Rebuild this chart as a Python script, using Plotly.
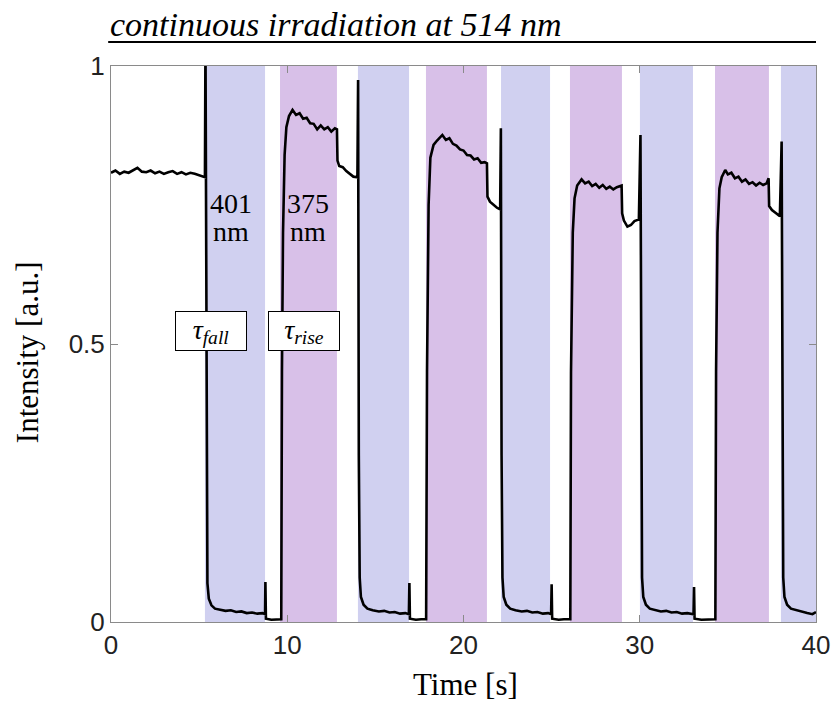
import plotly.graph_objects as go

# irradiation windows [s]
blue_start = [5.33, 14.01, 22.13, 30.01, 38.01]   # 401 nm on
blue_end = [8.74, 16.91, 24.91, 33.02, 40.0]
purple_start = [9.59, 17.87, 26.04, 34.27]        # 375 nm on
purple_end = [12.82, 21.33, 28.99, 37.33]

# intensity trace
time_s = [
    0.0, 0.25, 0.5, 0.75, 1.0, 1.25, 1.5, 1.75, 2.0, 2.25, 2.5, 2.75, 3.0, 3.25,
    3.5, 3.75, 4.0, 4.25, 4.5, 4.75, 5.0, 5.2, 5.33,
    5.36, 5.42, 5.47, 5.55, 5.7, 5.9, 6.2, 6.5, 6.8, 7.1, 7.4, 7.7, 8.0, 8.3,
    8.6, 8.74, 8.76, 8.79, 9.1, 9.4, 9.66,
    9.70, 9.76, 9.85, 9.95, 10.1, 10.3, 10.5, 10.7, 10.9, 11.1, 11.3, 11.5, 11.7,
    11.9, 12.1, 12.3, 12.5, 12.7, 12.82, 12.85, 12.95, 13.15, 13.35, 13.55, 13.75,
    13.98,
    14.02, 14.06, 14.11, 14.18, 14.33, 14.55, 14.85, 15.2, 15.5, 15.8, 16.1, 16.4,
    16.7, 16.9, 16.93, 16.96, 17.3, 17.6, 17.88,
    17.93, 18.02, 18.12, 18.3, 18.5, 18.8, 19.0, 19.2, 19.4, 19.6, 19.8, 20.0,
    20.2, 20.4, 20.6, 20.8, 21.0, 21.2, 21.33, 21.36, 21.5, 21.7, 21.9, 22.08,
    22.12, 22.16, 22.21, 22.28, 22.43, 22.65, 22.95, 23.3, 23.6, 23.9, 24.2, 24.5,
    24.8, 24.97, 25.0, 25.03, 25.4, 25.7, 26.06,
    26.10, 26.2, 26.3, 26.45, 26.7, 26.9, 27.1, 27.3, 27.5, 27.7, 27.9, 28.1,
    28.3, 28.5, 28.7, 28.97, 29.0, 29.1, 29.3, 29.5, 29.7, 29.95,
    30.04, 30.08, 30.13, 30.2, 30.35, 30.57, 30.87, 31.2, 31.5, 31.8, 32.1, 32.4,
    32.7, 33.05, 33.08, 33.11, 33.5, 33.9, 34.29,
    34.33, 34.41, 34.52, 34.65, 34.85, 35.0, 35.2, 35.4, 35.6, 35.8, 36.0, 36.2,
    36.4, 36.6, 36.8, 37.0, 37.2, 37.31, 37.34, 37.5, 37.7, 37.95,
    38.05, 38.09, 38.14, 38.21, 38.36, 38.58, 38.88, 39.2, 39.5, 39.8, 40.0,
]
intensity = [
    0.808, 0.812, 0.806, 0.810, 0.808, 0.813, 0.817, 0.810, 0.809, 0.812, 0.807,
    0.810, 0.806, 0.809, 0.811, 0.806, 0.809, 0.805, 0.808, 0.806, 0.803, 0.801,
    0.800,
    1.05, 0.30, 0.07, 0.042, 0.030, 0.024, 0.022, 0.020, 0.021, 0.018, 0.019,
    0.016, 0.017, 0.015, 0.016, 0.014, 0.072, 0.006, 0.004, 0.005, 0.005,
    0.45, 0.70, 0.84, 0.89, 0.910, 0.921, 0.912, 0.915, 0.905, 0.907, 0.897,
    0.896, 0.886, 0.893, 0.886, 0.890, 0.882, 0.888, 0.886, 0.830, 0.820, 0.818,
    0.811, 0.806, 0.801, 0.800,
    0.975, 0.30, 0.08, 0.045, 0.031, 0.024, 0.021, 0.019, 0.020, 0.017, 0.018,
    0.015, 0.016, 0.014, 0.070, 0.006, 0.004, 0.005, 0.005,
    0.45, 0.75, 0.835, 0.858, 0.866, 0.876, 0.867, 0.870, 0.860, 0.857, 0.850,
    0.848, 0.840, 0.839, 0.832, 0.834, 0.826, 0.827, 0.825, 0.765, 0.756, 0.750,
    0.745, 0.742,
    0.888, 0.30, 0.08, 0.045, 0.031, 0.024, 0.021, 0.019, 0.020, 0.017, 0.018,
    0.015, 0.016, 0.014, 0.068, 0.006, 0.004, 0.005, 0.005,
    0.45, 0.70, 0.762, 0.785, 0.796, 0.789, 0.792, 0.784, 0.788, 0.781, 0.786,
    0.779, 0.783, 0.778, 0.782, 0.785, 0.735, 0.722, 0.711, 0.714, 0.721, 0.724,
    0.876, 0.30, 0.08, 0.045, 0.031, 0.024, 0.021, 0.019, 0.020, 0.017, 0.018,
    0.015, 0.016, 0.014, 0.063, 0.006, 0.004, 0.005, 0.005,
    0.45, 0.70, 0.78, 0.80, 0.813, 0.805, 0.808, 0.798, 0.801, 0.792, 0.796,
    0.788, 0.791, 0.785, 0.790, 0.786, 0.789, 0.798, 0.748, 0.741, 0.736, 0.730,
    0.864, 0.30, 0.08, 0.045, 0.031, 0.024, 0.021, 0.018, 0.016, 0.014, 0.018,
]

x_ticks = [0, 10, 20, 30, 40]
y_ticks = [0, 0.5, 1]
y_tick_text = ["0", "0.5", "1"]

BLUE = "#d0d0f0"
PURPLE = "#d8c0e8"
FRAME = "#8a8a8a"

fig = go.Figure()

for s, e in zip(blue_start, blue_end):
    fig.add_vrect(x0=s, x1=e, fillcolor=BLUE, opacity=1, line_width=0, layer="below")
for s, e in zip(purple_start, purple_end):
    fig.add_vrect(x0=s, x1=e, fillcolor=PURPLE, opacity=1, line_width=0, layer="below")

fig.add_trace(go.Scatter(x=time_s, y=intensity, mode="lines",
                         line=dict(color="black", width=2.6), hoverinfo="skip"))

tick_font = dict(family="Liberation Sans", size=26, color="#222222")
axis_common = dict(showgrid=False, zeroline=False, showline=True, linecolor=FRAME,
                   linewidth=1, mirror="ticks", ticks="inside", ticklen=7,
                   tickcolor=FRAME, tickfont=tick_font, ticklabeloverflow="allow")

fig.update_layout(
    width=832, height=702,
    margin=dict(l=111, r=16, t=66, b=80, autoexpand=False),
    plot_bgcolor="white", paper_bgcolor="white",
    showlegend=False,
    xaxis=dict(range=[0, 40], tickvals=x_ticks, **axis_common),
    yaxis=dict(range=[0, 1], tickvals=y_ticks, ticktext=y_tick_text, **axis_common),
)

serif = "Liberation Serif"
# title with rule underneath
fig.add_annotation(text="<i>continuous irradiation at 514 nm</i>", xref="paper", yref="paper",
                   x=-0.004, y=1.037, xanchor="left", yanchor="bottom", showarrow=False,
                   font=dict(family=serif, size=34, color="black"))
fig.add_shape(type="line", xref="paper", yref="paper", x0=-0.004, x1=1.0, y0=1.0432, y1=1.0432,
              line=dict(color="black", width=2))

# axis titles
fig.add_annotation(text="Intensity [a.u.]", xref="paper", yref="paper", x=-0.118, y=0.485,
                   textangle=-90, showarrow=False, xanchor="center", yanchor="middle",
                   font=dict(family=serif, size=31, color="black"))
fig.add_annotation(text="Time [s]", xref="paper", yref="paper", x=0.5035, y=-0.113,
                   showarrow=False, xanchor="center", yanchor="middle",
                   font=dict(family=serif, size=31, color="black"))

# wavelength labels
for label, xc in [("401", 6.81), ("375", 11.18)]:
    fig.add_annotation(text=label, x=xc, y=0.752, showarrow=False,
                       font=dict(family=serif, size=28, color="black"))
    fig.add_annotation(text="nm", x=xc, y=0.703, showarrow=False,
                       font=dict(family=serif, size=28, color="black"))

# time-constant boxes
for label, xc in [("τ<sub>fall</sub>", 5.67), ("τ<sub>rise</sub>", 10.95)]:
    fig.add_annotation(text="<i>" + label + "</i>", x=xc, y=0.523, showarrow=False,
                       width=66, height=34, borderpad=2, bordercolor="black", borderwidth=1,
                       bgcolor="white", font=dict(family=serif, size=28, color="black"))

# fixed size (no responsive resize), and drop the default page margin
fig.write_html("out.html",
               config={"responsive": False, "displayModeBar": False},
               post_script="document.body.style.margin = '0';")
